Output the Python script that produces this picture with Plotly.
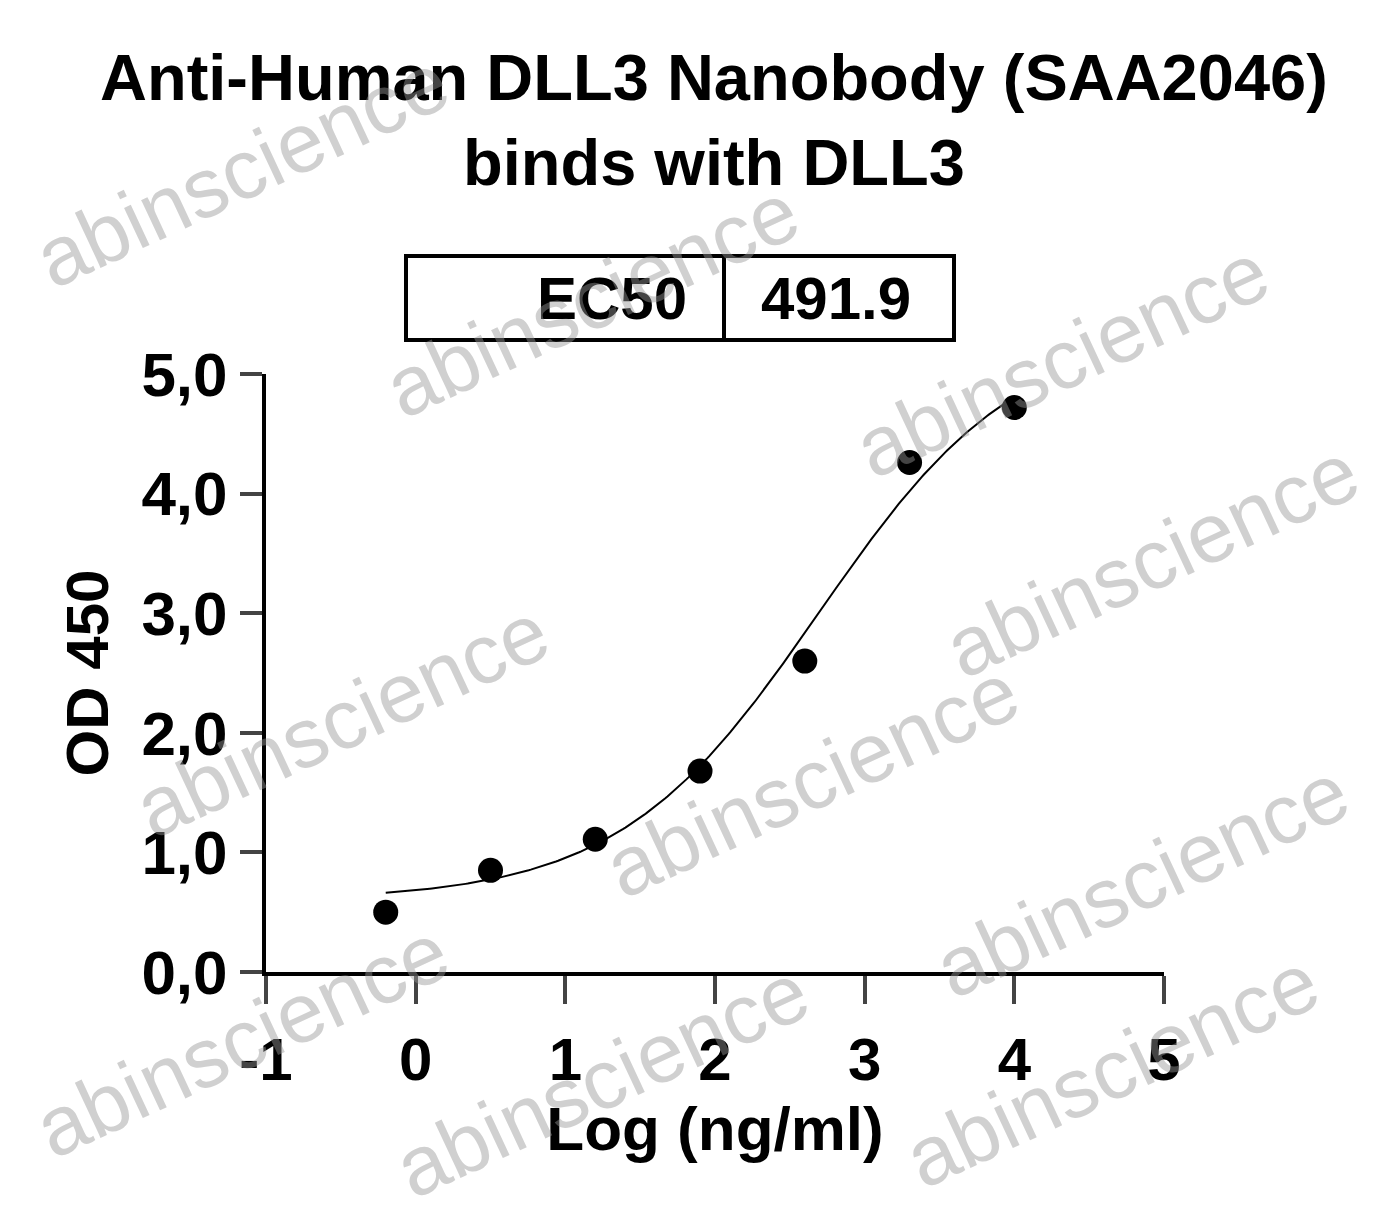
import numpy as np
import plotly.graph_objects as go

log_conc = [-0.2, 0.5, 1.2, 1.9, 2.6, 3.3, 4.0]
od450 = [0.50, 0.85, 1.11, 1.68, 2.60, 4.26, 4.72]
fit_bottom, fit_top, fit_logec50, fit_hill = 0.6, 5.4, np.log10(491.9), 0.65
x_ticks = [-1, 0, 1, 2, 3, 4, 5]
y_ticks = [0, 1, 2, 3, 4, 5]
y_labels = ["0,0", "1,0", "2,0", "3,0", "4,0", "5,0"]

xc = np.linspace(min(log_conc), max(log_conc), 300)
yc = fit_bottom + (fit_top - fit_bottom) / (1 + 10 ** ((fit_logec50 - xc) * fit_hill))

F = "Liberation Sans, Arial, sans-serif"
fig = go.Figure()
fig.add_trace(go.Scatter(x=xc, y=yc, mode="lines", line=dict(color="black", width=2), hoverinfo="skip"))
fig.add_trace(go.Scatter(x=log_conc, y=od450, mode="markers", marker=dict(color="black", size=25)))

fig.update_layout(
    width=1378, height=1219, showlegend=False, plot_bgcolor="white", paper_bgcolor="white",
    margin=dict(l=258, r=222, t=366, b=255),
    font=dict(family=F, color="black"),
    xaxis=dict(range=[-1, 5], tickvals=x_ticks, ticktext=["<b>%d</b>" % t for t in x_ticks],
               ticks="outside", ticklen=28, tickwidth=4,
               showline=True, linewidth=4, linecolor="black", showgrid=False, zeroline=False,
               tickfont=dict(size=60, family=F), title=dict(text="<b>Log (ng/ml)</b>", font=dict(size=62), standoff=16),
               ticklabelstandoff=4),
    yaxis=dict(range=[0, 5], tickvals=y_ticks, ticktext=["<b>%s</b>" % t for t in y_labels],
               ticks="outside", ticklen=22, tickwidth=4,
               showline=True, linewidth=4, linecolor="black", showgrid=False, zeroline=False,
               tickfont=dict(size=62, family=F), title=dict(text="<b>OD 450</b>", font=dict(size=60), standoff=14)),
)

def px(x): return (x - 264) / 898
def py(y): return (972 - y) / 598

def ann(text, x, y, size, **kw):
    fig.add_annotation(text=text, xref="paper", yref="paper", x=px(x), y=py(y), showarrow=False,
                       xanchor="center", yanchor="middle", font=dict(size=size, family=F, color=kw.pop("color", "black")), **kw)

ann("<b>Anti-Human DLL3 Nanobody (SAA2046)<br>binds with DLL3</b>", 712, 120, 65, align="center")
fig.add_shape(type="rect", xref="paper", yref="paper", x0=px(404), x1=px(952), y0=py(340), y1=py(256),
              line=dict(color="black", width=4))
fig.add_shape(type="line", xref="paper", yref="paper", x0=px(722), x1=px(722), y0=py(340), y1=py(256),
              line=dict(color="black", width=4))
ann("<b>EC50</b>", 610, 298, 60)
ann("<b>491.9</b>", 834, 298, 60)
for (wx, wy) in [(240, 170), (590, 300), (1060, 360), (340, 720), (810, 780), (1140, 880), (240, 1040), (600, 1080), (1150, 560), (1110, 1070)]:
    ann("abinscience", wx, wy, 84, textangle=-25, color="rgba(150,150,150,0.45)")
fig.write_html("out.html")
